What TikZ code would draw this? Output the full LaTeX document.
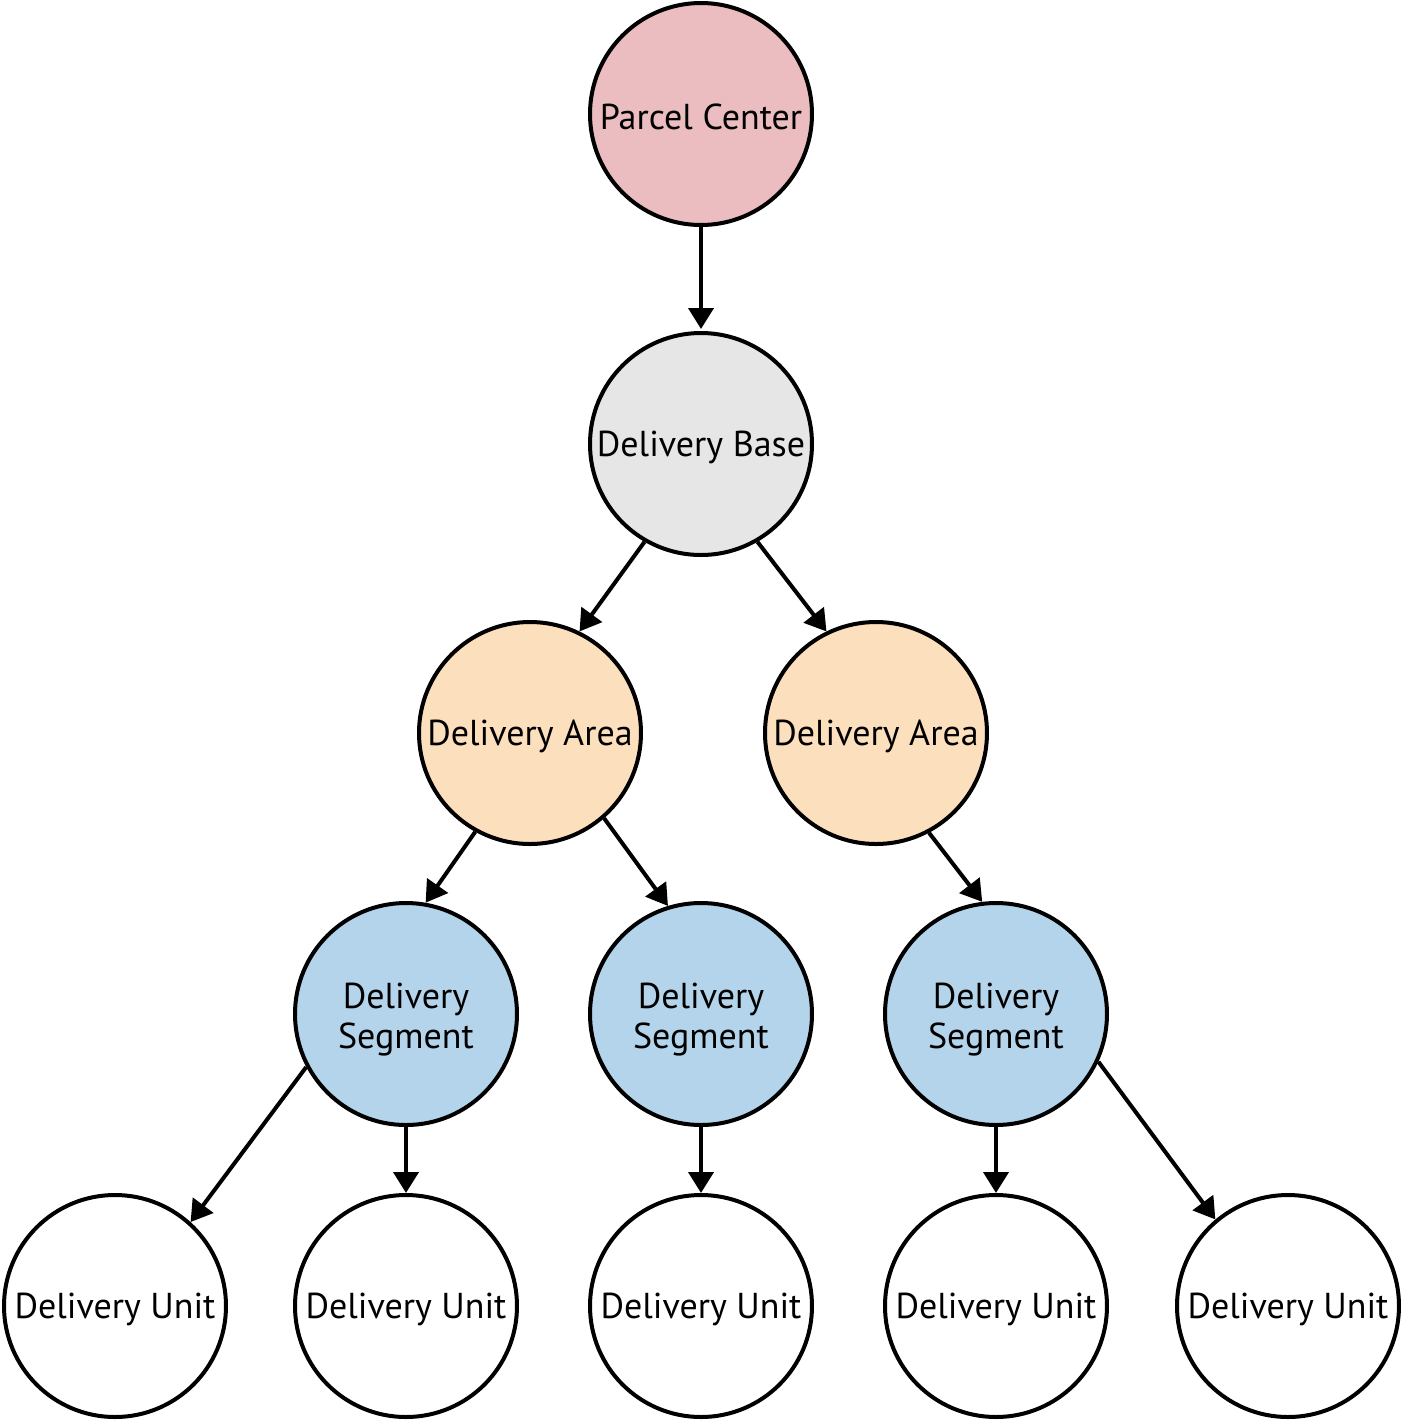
\documentclass[tikz,border=0pt]{standalone}
\usepackage{fontspec}
\setmainfont{PT Sans}
\usetikzlibrary{arrows.meta}
\definecolor{pcfill}{HTML}{EBBDC0}
\definecolor{dbfill}{HTML}{E6E6E6}
\definecolor{dafill}{HTML}{FCDFBD}
\definecolor{dsfill}{HTML}{B3D4EA}
\newcommand\lowr[2]{\raisebox{-#1}[\height][\depth]{#2}}
\begin{document}
\begin{tikzpicture}[x=0.5pt,y=-0.5pt,
  circ/.style={circle,draw=black,line width=2pt,minimum size=111pt,inner sep=0pt,
    font=\fontsize{18}{20}\selectfont,align=center},
  conn/.style={line width=2pt,-{Triangle[length=10.5pt,width=12.5pt]}}]
\useasboundingbox (0,0) rectangle (1403,1421);
\node[circ,fill=pcfill] (pc) at (701,114) {\lowr{1.5pt}{Parcel Center}};
\node[circ,fill=dbfill] (db) at (701,444) {\lowr{1.5pt}{Delivery Base}};
\node[circ,fill=dafill] (dal) at (530,733) {\lowr{1.5pt}{Delivery Area}};
\node[circ,fill=dafill] (dar) at (876,733) {\lowr{1.5pt}{Delivery Area}};
\node[circ,fill=dsfill] (sl) at (406,1014) {\lowr{3pt}{Delivery}\\\lowr{3pt}{Segment}};
\node[circ,fill=dsfill] (sm) at (701,1014) {\lowr{3pt}{Delivery}\\\lowr{3pt}{Segment}};
\node[circ,fill=dsfill] (sr) at (996,1014) {\lowr{3pt}{Delivery}\\\lowr{3pt}{Segment}};
\node[circ,fill=white] (u1) at (115,1306) {\lowr{1.5pt}{Delivery Unit}};
\node[circ,fill=white] (u2) at (406,1306) {\lowr{1.5pt}{Delivery Unit}};
\node[circ,fill=white] (u3) at (701,1306) {\lowr{1.5pt}{Delivery Unit}};
\node[circ,fill=white] (u4) at (996,1306) {\lowr{1.5pt}{Delivery Unit}};
\node[circ,fill=white] (u5) at (1288,1306) {\lowr{1.5pt}{Delivery Unit}};
\draw[conn,shorten >=1pt] (pc.south) -- (db.north);
\draw[conn] (db.240) -- (dal.64);
\draw[conn] (db.300) -- (dar.116);
\draw[conn] (dal.241) -- (sl.80);
\draw[conn] (dal.311) -- (sm.107);
\draw[conn] (dar.298.6) -- (sr.97.5);
\draw[conn] (sl.208) -- (u1.48);
\draw[conn] (sl.south) -- (u2.north);
\draw[conn] (sm.south) -- (u3.north);
\draw[conn] (sr.south) -- (u4.north);
\draw[conn] (sr.335) -- (u5.130);
\end{tikzpicture}
\end{document}
